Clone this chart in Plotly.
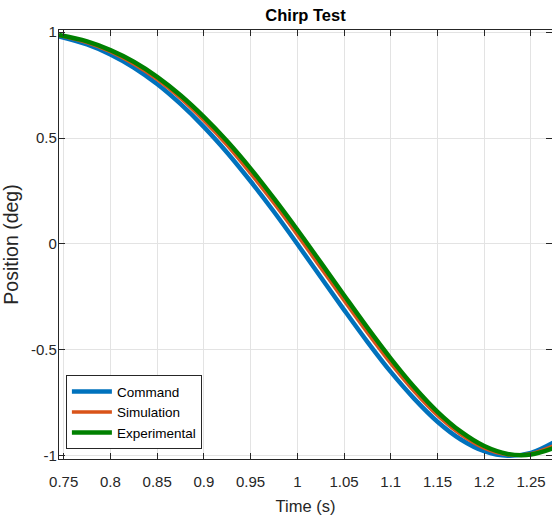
import plotly.graph_objects as go

time_s = [0.745, 0.775, 0.8, 0.825, 0.85, 0.875, 0.9, 0.925, 0.95, 0.975, 1.0,
          1.025, 1.05, 1.075, 1.1, 1.125, 1.15, 1.175, 1.2, 1.225, 1.25, 1.275]
command = [0.980, 0.942, 0.895, 0.833, 0.755, 0.661, 0.553, 0.431, 0.296, 0.152, 0.000,
           -0.156, -0.311, -0.462, -0.604, -0.730, -0.839, -0.923, -0.978, -1.000, -0.986, -0.935]
simulation = [0.984, 0.951, 0.908, 0.850, 0.777, 0.688, 0.583, 0.466, 0.333, 0.192, 0.043,
              -0.112, -0.267, -0.419, -0.564, -0.696, -0.810, -0.900, -0.964, -0.995, -0.990, -0.951]
experimental = [0.986, 0.956, 0.915, 0.860, 0.789, 0.702, 0.600, 0.485, 0.356, 0.215, 0.067,
                -0.087, -0.242, -0.395, -0.541, -0.675, -0.792, -0.886, -0.954, -0.991, -0.994, -0.962]

x_ticks = [0.75, 0.8, 0.85, 0.9, 0.95, 1.0, 1.05, 1.1, 1.15, 1.2, 1.25]
x_tick_labels = ["0.75", "0.8", "0.85", "0.9", "0.95", "1", "1.05", "1.1", "1.15", "1.2", "1.25"]
y_ticks = [-1, -0.5, 0, 0.5, 1]
y_tick_labels = ["-1", "-0.5", "0", "0.5", "1"]

FONT = "Liberation Sans, Arial, sans-serif"

fig = go.Figure()
fig.add_trace(go.Scatter(x=time_s, y=command, mode="lines", name="Command",
                         line=dict(color="#0072BD", width=4.5, shape="spline")))
fig.add_trace(go.Scatter(x=time_s, y=simulation, mode="lines", name="Simulation",
                         line=dict(color="#D95319", width=3.5, shape="spline")))
fig.add_trace(go.Scatter(x=time_s, y=experimental, mode="lines", name="Experimental",
                         line=dict(color="#008000", width=4.5, shape="spline")))

axis_common = dict(
    showline=True, linecolor="#262626", linewidth=1.2, mirror="ticks",
    ticks="inside", ticklen=6, tickcolor="#262626", tickwidth=1,
    showgrid=True, gridcolor="#E3E3E3", gridwidth=1, zeroline=False,
    tickfont=dict(family=FONT, size=15, color="#262626"),
)

fig.update_layout(
    width=552, height=522,
    margin=dict(l=59, r=0, t=30, b=63),
    paper_bgcolor="white", plot_bgcolor="white",
    title=dict(text="<b>Chirp Test</b>", x=0.5, xanchor="center", xref="paper",
               y=1 - 15 / 522, yanchor="middle",
               font=dict(family=FONT, size=16.5, color="black")),
    xaxis=dict(range=[0.745, 1.2725], tickvals=x_ticks, ticktext=x_tick_labels,
               title=dict(text="Time (s)", font=dict(family=FONT, size=16.5, color="#262626"), standoff=11),
               ticklabelstandoff=9, **axis_common),
    yaxis=dict(range=[-1.015, 1.01], tickvals=y_ticks, ticktext=y_tick_labels,
               title=dict(text="Position (deg)", font=dict(family=FONT, size=19.5, color="#262626"), standoff=11),
               ticklabelstandoff=-2, **axis_common),
    showlegend=True,
    legend=dict(x=0.014, y=0.023, xanchor="left", yanchor="bottom",
                bgcolor="white", bordercolor="#262626", borderwidth=1,
                font=dict(family=FONT, size=13.5, color="black"),
                tracegroupgap=0, itemwidth=40),
)

fig.write_html("out.html")
